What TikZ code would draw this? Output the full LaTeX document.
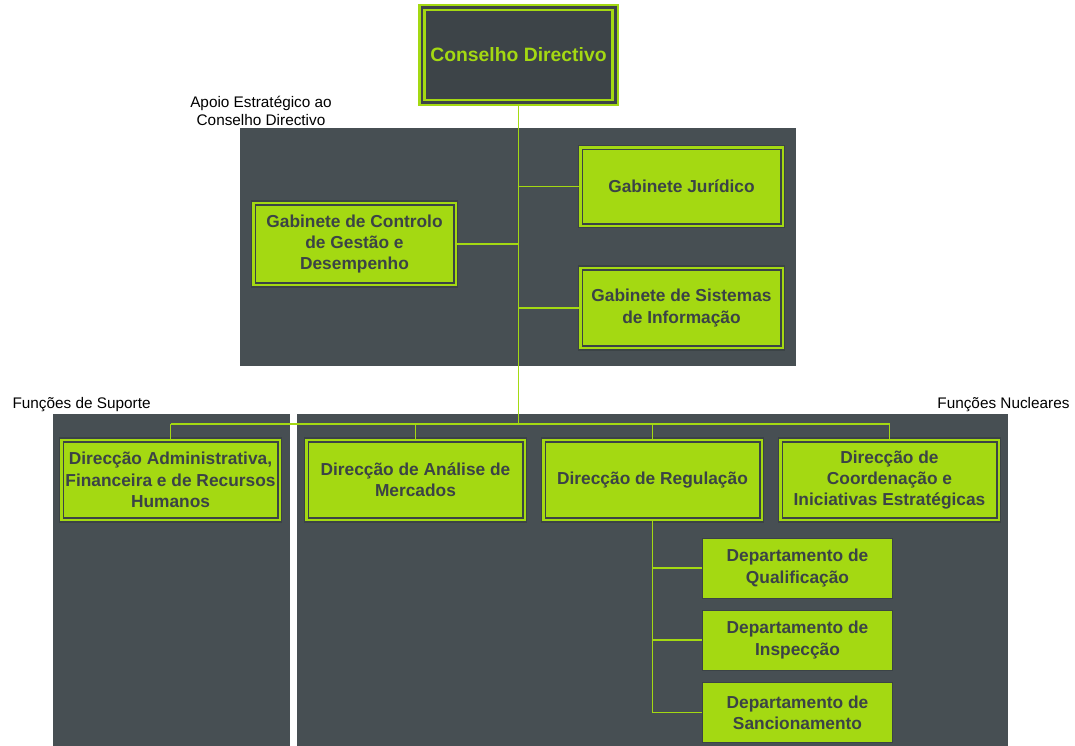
\documentclass[tikz,border=0pt]{standalone}
\usepackage{fontspec}
\setmainfont{Liberation Sans}
\usepackage{tikz}
\usepackage{xcolor}
\usetikzlibrary{positioning}
\definecolor{lime}{HTML}{A4D912}
\definecolor{slate}{HTML}{474F53}
\definecolor{ink}{HTML}{3B4346}
\definecolor{board}{HTML}{3D4448}
\tikzset{every picture/.style={line width=0.75pt}}
\tikzset{unit/.style={draw=ink, double=lime, double distance=2pt, line width=0.9pt, fill=lime,
    text=ink, font=\fontsize{13}{16}\selectfont\bfseries, align=center, inner sep=0pt},
  dept/.style={draw=ink, line width=0.7pt, fill=lime, text=ink,
    font=\fontsize{13}{16}\selectfont\bfseries, align=center, inner sep=0pt,
    minimum width=143pt, minimum height=45pt},
  link/.style={draw=lime, line width=1pt},
  tag/.style={font=\fontsize{11.5}{13}\selectfont, align=center, inner sep=0pt}}

\begin{document}
\begin{tikzpicture}[x=0.75pt,y=-0.75pt]
  \useasboundingbox (0,0) rectangle (1075,746);
  \fill [slate] (240,128) rectangle (796,366);
  \fill [slate] (53,414) rectangle (290,746);
  \fill [slate] (297,414) rectangle (1008,746);

  \node [tag] (apoio) at (261,111) {Apoio Estratégico ao\\Conselho Directivo};
  \node [tag, anchor=west] (suporte) at (12,405) {Funções de Suporte};
  \node [tag, anchor=east] (nucleares) at (1070,405) {Funções Nucleares};

  \node [draw=lime, double=board, double distance=2pt, line width=1.8pt, fill=board, text=lime,
    font=\fontsize{14.5}{17}\selectfont\bfseries, minimum width=145pt, minimum height=71pt]
    (cd) at (518.5,55) {Conselho Directivo};

  \node [unit, minimum width=152pt, minimum height=59pt] (gj) at (681.5,186.5) {Gabinete Jurídico};
  \node [unit, minimum width=152pt, minimum height=61.5pt] (gcg) at (354.5,244) {Gabinete de Controlo\\de Gestão e\\Desempenho};
  \node [unit, minimum width=152pt, minimum height=60pt] (gsi) at (681.5,308) {Gabinete de Sistemas\\de Informação};

  \node [unit, minimum width=164pt, minimum height=60pt] (dafrh) at (170.5,480) {Direcção Administrativa,\\Financeira e de Recursos\\Humanos};
  \node [unit, minimum width=164pt, minimum height=60pt] (dam) at (415.5,480) {Direcção de Análise de\\Mercados};
  \node [unit, minimum width=164pt, minimum height=60pt] (dr) at (652.5,480) {Direcção de Regulação};
  \node [unit, minimum width=164pt, minimum height=60pt] (dcie) at (889.5,480) {Direcção de\\Coordenação e\\Iniciativas Estratégicas};

  \node [dept] (dq) at (797.5,568) {Departamento de\\Qualificação};
  \node [dept] (di) at (797.5,640) {Departamento de\\Inspecção};
  \node [dept] (ds) at (797.5,712.5) {Departamento de\\Sancionamento};

  \coordinate (bus) at (518.5,424);
  \draw [link] (cd.south) -- (bus);
  \draw [link] (gj.west) -- (gj.west -| cd.south);
  \draw [link] (gcg.east) -- (gcg.east -| cd.south);
  \draw [link] (gsi.west) -- (gsi.west -| cd.south);
  \draw [link] (dafrh.north |- bus) -- (dcie.north |- bus);
  \foreach \d in {dafrh,dam,dr,dcie}
    \draw [link] (\d.north |- bus) -- (\d.north);
  \draw [link] (dr.south) -- (dr.south |- ds.west);
  \foreach \d in {dq,di,ds}
    \draw [link] (\d.west) -- (\d.west -| dr.south);
\end{tikzpicture}
\end{document}
